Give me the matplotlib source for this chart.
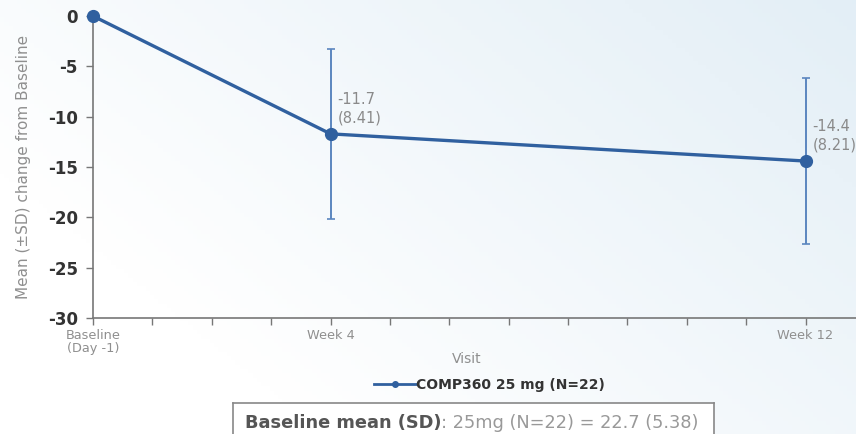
import numpy as np
import matplotlib
matplotlib.use("Agg")
import matplotlib.pyplot as plt
from matplotlib.lines import Line2D

weeks = [0, 4, 12]
means = [0.0, -11.7, -14.4]
sds = [0.0, 8.41, 8.21]
tick_labels = ["Baseline\n(Day -1)", "Week 4", "Week 12"]
series_name = "COMP360 25 mg (N=22)"

plt.rcParams['font.family'] = ['DejaVu Sans']

fig = plt.figure(figsize=(8.56, 4.34), dpi=100)

# subtle background gradient
bg = fig.add_axes([0, 0, 1, 1], zorder=-10)
gx = np.linspace(0, 1, 200)
gy = np.linspace(0, 1, 100)
X, Y = np.meshgrid(gx, gy)
t = np.clip(0.8 * X + 0.5 * (1 - Y) - 0.3, 0, 1)
c0 = np.array([1.0, 1.0, 1.0])
c1 = np.array([0.89, 0.935, 0.965])
img = c0[None, None, :] * (1 - t[..., None]) + c1[None, None, :] * t[..., None]
bg.imshow(img, aspect='auto', extent=[0, 1, 0, 1], origin='upper')
bg.axis('off')

ax = fig.add_axes([0.1087, 0.267, 0.8913, 0.696])
ax.patch.set_alpha(0)

line_color = "#30609f"
err_color = "#5b86bf"

ax.errorbar(weeks[1:], means[1:], yerr=sds[1:], fmt='none', ecolor=err_color,
            elinewidth=1.4, capsize=3, capthick=1.2, zorder=2, clip_on=False)
ax.plot(weeks, means, color=line_color, lw=2.4, marker='o', markersize=8.5,
        zorder=3, clip_on=False)

for w, m, s in zip(weeks[1:], means[1:], sds[1:]):
    ax.annotate(f"{m:.1f}\n({s:.2f})", xy=(w, m), xytext=(5, 6),
                textcoords='offset points', ha='left', va='bottom',
                fontsize=10.5, color='#8a8a8a', linespacing=1.3)

ax.set_xlim(0, 12.85)
ax.set_ylim(-30, 0)
ax.set_yticks(np.arange(-30, 1, 5))
ax.set_yticklabels([str(v) for v in range(-30, 1, 5)], fontsize=12,
                   fontweight='bold', color='#333333')
ax.set_xticks(weeks)
ax.set_xticklabels(tick_labels, fontsize=9.3, color='#8f8f8f', linespacing=0.95)
ax.set_xticks(np.arange(0, 13, 1), minor=True)
ax.tick_params(axis='both', which='both', direction='out', length=5,
               color='#777777', width=1)
ax.tick_params(axis='x', which='major', pad=3)
ax.tick_params(axis='y', pad=6)

for sp in ['top', 'right']:
    ax.spines[sp].set_visible(False)
for sp in ['left', 'bottom']:
    ax.spines[sp].set_color('#777777')
    ax.spines[sp].set_linewidth(1.2)

ax.set_ylabel("Mean (±SD) change from Baseline", fontsize=11, color='#8f8f8f',
              labelpad=12)
fig.text(0.545, 0.172, "Visit", fontsize=10, color='#8f8f8f', ha='center',
         va='center')

handle = Line2D([], [], color=line_color, lw=2, marker='o', markersize=4)
leg = fig.legend([handle], [series_name], loc='center', bbox_to_anchor=(0.572, 0.113),
                 frameon=False, handlelength=3.0, handletextpad=0.0,
                 prop={'size': 10, 'weight': 'bold'})
for txt in leg.get_texts():
    txt.set_color('#333333')

# baseline box
box = fig.add_axes([0.272, -0.05, 0.562, 0.122])
box.set_xticks([])
box.set_yticks([])
box.set_facecolor('white')
for sp in box.spines.values():
    sp.set_color('#888888')
    sp.set_linewidth(1.2)
t1 = box.text(0.025, 0.62, "Baseline mean (SD)", fontsize=12.8, fontweight='bold',
              color='#555555', ha='left', va='center', transform=box.transAxes)
fig.canvas.draw()
bb = t1.get_window_extent()
inv = box.transAxes.inverted()
x_end = inv.transform((bb.x1, bb.y0))[0]
box.text(x_end, 0.62, ": 25mg (N=22) = 22.7 (5.38)", fontsize=12.8,
         color='#999999', ha='left', va='center', transform=box.transAxes)

fig.savefig("out.png", dpi=100)
